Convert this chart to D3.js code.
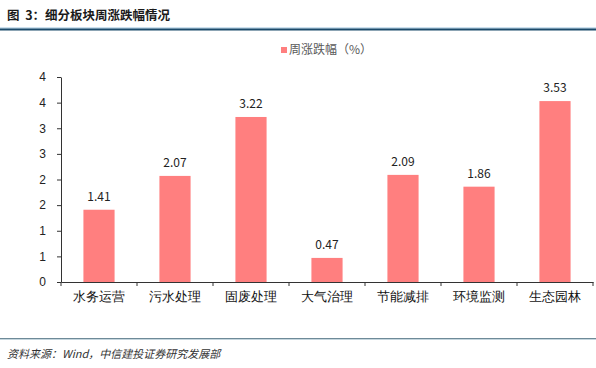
<!DOCTYPE html>
<html><head><meta charset="utf-8">
<script src="https://cdn.jsdelivr.net/npm/d3@7/dist/d3.min.js"></script>
<style>
body{margin:0;background:#fff;}
svg{display:block;font-family:"Noto Sans CJK SC","Noto Sans",sans-serif;}
</style></head>
<body><svg id="c" width="596" height="368"></svg>
<script>
const categories = ["水务运营","污水处理","固废处理","大气治理","节能减排","环境监测","生态园林"];
const values = [1.41, 2.07, 3.22, 0.47, 2.09, 1.86, 3.53];
const tickValues = [0, 0.5, 1, 1.5, 2, 2.5, 3, 3.5, 4];
const tickLabels = ["0","1","1","2","2","3","3","4","4"];
const seriesName = "周涨跌幅（%）";
const title = "图\u00a0\u00a03：细分板块周涨跌幅情况";
const source = "资料来源：Wind，中信建投证券研究发展部";

const svg = d3.select("#c");
const m = {l:61, r:593, t:77, b:282};
const x = d3.scaleBand().domain(categories).range([m.l, m.r]).paddingInner(0.59).paddingOuter(0.295);
const y = d3.scaleLinear().domain([0,4]).range([m.b, m.t]);

// title
svg.append("text").attr("x",7).attr("y",20).attr("font-size",12.5).attr("font-weight","bold").attr("fill","#1a1a1a").text(title);
svg.append("rect").attr("x",0).attr("y",27.5).attr("width",596).attr("height",1).attr("fill","#9cc3e0");
svg.append("rect").attr("x",0).attr("y",28.5).attr("width",596).attr("height",2).attr("fill","#1b4a6b");

// legend
svg.append("rect").attr("x",281).attr("y",47).attr("width",6).attr("height",6).attr("fill","#FF7F7F");
svg.append("text").attr("x",289).attr("y",54).attr("font-size",12).attr("fill","#595959").text(seriesName);

// bars
svg.selectAll("rect.bar").data(values).join("rect").attr("class","bar")
  .attr("x",(d,i)=>x(categories[i])).attr("width",x.bandwidth())
  .attr("y",d=>y(d)).attr("height",d=>y(0)-y(d)).attr("fill","#FF7F7F");

svg.selectAll("text.val").data(values).join("text").attr("class","val")
  .attr("x",(d,i)=>x(categories[i])+x.bandwidth()/2).attr("y",d=>y(d)-9)
  .attr("text-anchor","middle").attr("font-size",12).attr("fill","#222")
  .text(d=>d.toFixed(2));

// y axis
const ya = svg.append("g").attr("transform",`translate(${m.l},0)`)
  .call(d3.axisLeft(y).tickValues(tickValues).tickFormat((d,i)=>tickLabels[i]).tickSize(4).tickSizeOuter(0));
ya.select(".domain").attr("stroke","#333");
ya.selectAll(".tick line").attr("stroke","#333");
ya.selectAll(".tick text").attr("font-size",12).attr("fill","#222").attr("x",-15).attr("font-family","Liberation Sans, Arial, sans-serif");

// x axis
const xa = svg.append("g").attr("transform",`translate(0,${m.b})`)
  .call(d3.axisBottom(x).tickSize(0).tickSizeOuter(0));
xa.select(".domain").attr("stroke","#333");
xa.selectAll(".tick text").attr("font-size",13).attr("fill","#111").attr("dy","1.25em");
const bounds = d3.range(categories.length+1).map(i=>m.l + i*(m.r-m.l)/categories.length);
svg.selectAll("line.xt").data(bounds).join("line").attr("class","xt")
  .attr("x1",d=>d).attr("x2",d=>d).attr("y1",m.b).attr("y2",m.b+4).attr("stroke","#333");

// footer
svg.append("rect").attr("x",0).attr("y",338).attr("width",596).attr("height",1).attr("fill","#6e8a98");
svg.append("rect").attr("x",0).attr("y",339).attr("width",596).attr("height",1).attr("fill","#c5d6de");
svg.append("text").attr("x",7).attr("y",358).attr("font-size",11).attr("font-style","italic").attr("fill","#333").text(source);
</script></body></html>
